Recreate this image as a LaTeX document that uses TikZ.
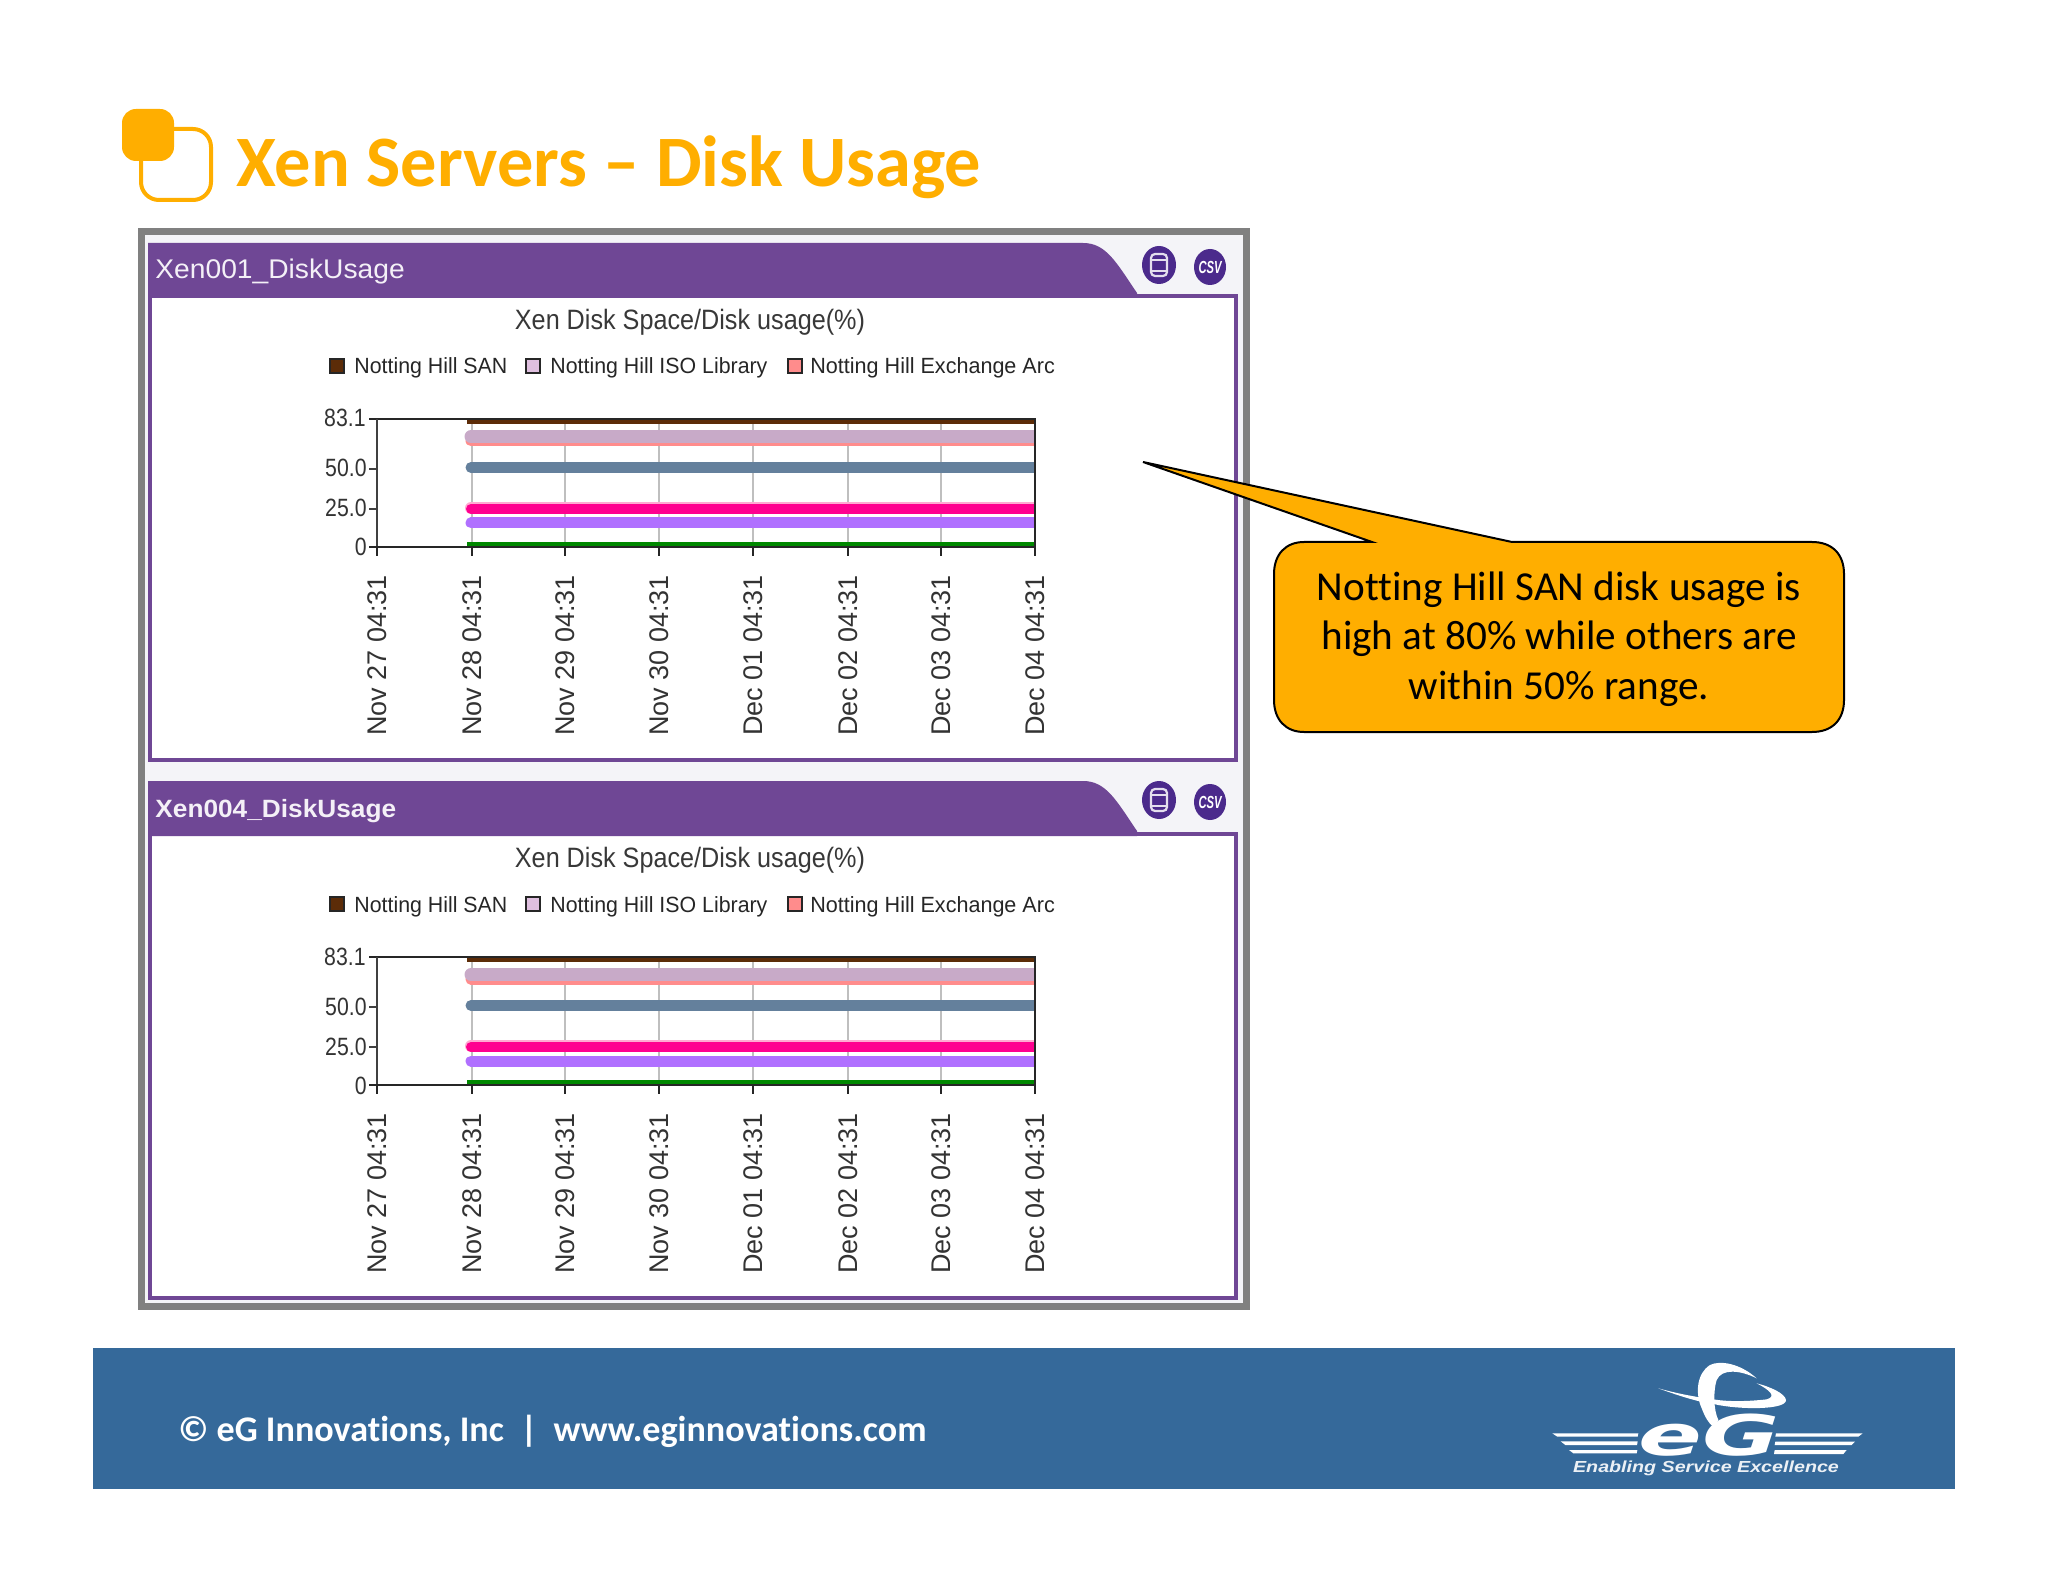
\documentclass[tikz,border=0pt]{standalone}
\usepackage{fontspec}
\usepackage{graphicx}
\setmainfont[Ligatures=NoCommon]{Carlito}
\newfontfamily\arialfont{Liberation Sans}
\newfontfamily\logofont{DejaVu Sans}
\definecolor{orangeC}{HTML}{FFAE00}
\definecolor{purpleC}{HTML}{6F4795}
\definecolor{iconC}{HTML}{4B2A8C}
\definecolor{footC}{HTML}{35699A}
\definecolor{frameC}{HTML}{808080}
\definecolor{frameIn}{HTML}{F4F4F8}
\definecolor{brownS}{RGB}{92,44,8}
\tikzset{
  chartlabel/.style={font=\arialfont\fontsize{13.5}{15}\selectfont,text=black!80,inner sep=0pt},
  ylabel/.style={font=\arialfont\fontsize{12.5}{14}\selectfont,text=black!80,inner sep=0pt,anchor=base east},
  legendtext/.style={font=\arialfont\fontsize{11}{13}\selectfont,text=black!85,inner sep=0pt,anchor=base west},
  legendbox/.style={draw=black!85,line width=1pt},
  series/.style={line cap=round,line width=#1},
  logoline/.style={fill=white,draw=none},
}
\newcommand{\diskpanel}[4]{%
\begin{scope}[shift={(0,#1)},name prefix=#2-]
  % frame and header
  \draw[purpleC,line width=2pt,fill=white] (150,296) rectangle (1236,760);
  \fill[purpleC] (148,243) -- (1083,243) .. controls (1106,243) and (1116,262) .. (1137,293) -- (1137,298) -- (148,298) -- cycle;
  \node[anchor=base west,inner sep=0pt,text=white!92!purpleC] (head) at (155,279) {#3};
  % icons
  \begin{scope}[shift={(0,#4)}]
    \fill[iconC] (1159,264) ellipse [x radius=17,y radius=19];
    \draw[white!85!iconC,line width=1.1pt,rounded corners=2pt] (1151,253) rectangle (1167,275);
    \draw[white!85!iconC,line width=1.1pt] (1151,259) -- (1167,259) (1151,270) -- (1167,270);
    \fill[iconC] (1210,266) ellipse [x radius=16,y radius=18];
    \node[inner sep=0pt,text=white,font=\arialfont\bfseries\itshape\fontsize{7}{8}\selectfont] (csv) at (1210,266) {\scalebox{.8}[1.25]{CSV}};
  \end{scope}
  % titles and legend
  \node[inner sep=0pt,text=black!78,font=\arialfont\fontsize{14}{16}\selectfont] (title) at (690,322) {\scalebox{.9}[1]{Xen Disk Space/Disk usage(\%)}};
  \draw[legendbox,fill=brownS] (330,359) rectangle (344,373);
  \node[legendtext] (lg1) at (354,374) {\scalebox{.97}[1]{Notting Hill SAN}};
  \draw[legendbox,fill=violet!25!white] (526,359) rectangle (540,373);
  \node[legendtext] (lg2) at (550,374) {\scalebox{.97}[1]{Notting Hill ISO Library}};
  \draw[legendbox,fill=red!45!white] (788,359) rectangle (802,373);
  \node[legendtext] (lg3) at (810,374) {\scalebox{.98}[1]{Notting Hill Exchange Arc}};
  % grid
  \foreach \gx in {472,565,659,753,848,941} \draw[black!25,line width=1pt] (\gx,419) -- (\gx,547);
  % series
  \begin{scope}
    \clip (440,410) rectangle (1035,560);
    \draw[color=brownS,line width=3.2pt] (467,421) -- (1040,421);
    \draw[color={rgb,255:red,255;green,140;blue,140},series=5.5pt] (471,441) -- (1040,441);
    \draw[color={rgb,255:red,200;green,170;blue,200},series=6.5pt] (471,436.5) -- (1040,436.5);
    \draw[color={rgb,255:red,100;green,128;blue,156},series=5.5pt] (471,467.5) -- (1040,467.5);
    \draw[color={rgb,255:red,255;green,170;blue,210},series=6pt] (471,508) -- (1040,508);
    \draw[color={rgb,255:red,255;green,0;blue,144},series=5pt] (471,509) -- (1040,509);
    \draw[color={rgb,255:red,176;green,112;blue,255},series=5.5pt] (471,523) -- (1040,523);
    \draw[color={rgb,255:red,0;green,136;blue,0},line width=2.5pt] (467,544.5) -- (1040,544.5);
  \end{scope}
  % axes
  \draw[black!85,line width=1pt] (369,419) -- (1035,419) -- (1035,547);
  \draw[black!75,line width=1pt] (377,419) -- (377,547);
  \draw[black!85,line width=1pt] (369,547) -- (1035,547);
  \draw[black!75,line width=1pt] (369,469) -- (377,469) (369,509) -- (377,509);
  \foreach \gx in {377,472,565,659,753,848,941,1035} \draw[black!85,line width=1pt] (\gx,547) -- (\gx,556);
  % labels
  \node[ylabel] (y83) at (366,427) {\scalebox{.85}[1]{83.1}};
  \node[ylabel] (y50) at (367,477) {\scalebox{.85}[1]{50.0}};
  \node[ylabel] (y25) at (367,517) {\scalebox{.85}[1]{25.0}};
  \node[ylabel] (y0) at (367,556) {\scalebox{.85}[1]{0}};
  \foreach \gx/\lab [count=\li] in {377/Nov 27 04:31,472/Nov 28 04:31,565/Nov 29 04:31,659/Nov 30 04:31,753/Dec 01 04:31,848/Dec 02 04:31,941/Dec 03 04:31,1035/Dec 04 04:31}
    \node[chartlabel,rotate=90,anchor=west] (x\li) at (\gx,736) {\lab};
\end{scope}}
\begin{document}
\begin{tikzpicture}[x=0.5pt,y=-0.5pt]
\useasboundingbox (0,0) rectangle (2048,1582);
% title
\draw[orangeC,line width=2pt,rounded corners=9pt] (141,129) rectangle (211,200);
\fill[orangeC,rounded corners=7pt] (122,109) rectangle (174,161);
\node[anchor=base west,inner sep=0pt,text=orangeC,font=\bfseries\fontsize{36.2}{40}\selectfont] (maintitle) at (236,187) {Xen Servers – Disk Usage};
% outer frame
\draw[frameC,line width=3.5pt,fill=frameIn] (141,232) rectangle (1246,1306);
\diskpanel{0}{p1}{\arialfont\fontsize{13.5}{16}\selectfont\scalebox{1.045}[1]{Xen001\_DiskUsage}}{1}
\diskpanel{538}{p2}{\arialfont\bfseries\fontsize{12.5}{16}\selectfont\scalebox{1.05}[1]{Xen004\_DiskUsage}}{-2}
% callout
\draw[fill=orangeC,draw=black,line width=1pt] (1304,542) -- (1372,542) -- (1143,462) -- (1512,542) -- (1812,542)
  .. controls (1832,542) and (1844,554) .. (1844,574) -- (1844,700)
  .. controls (1844,720) and (1832,732) .. (1812,732) -- (1304,732)
  .. controls (1286,732) and (1274,720) .. (1274,700) -- (1274,574)
  .. controls (1274,554) and (1286,542) .. (1304,542) -- cycle;
\node[align=center,inner sep=0pt,text=black,font=\fontsize{20.6}{24.8}\selectfont] (note) at (1559,639) {Notting Hill SAN disk usage is\\high at 80\% while others are\\within 50\% range.};
% footer
\fill[footC] (93,1348) rectangle (1955,1489);
\node[anchor=base west,inner sep=0pt,text=white,font=\bfseries\fontsize{18.05}{20}\selectfont] (foot) at (178,1441) {© eG Innovations, Inc\ \ |\ \ www.eginnovations.com};
% logo
\begin{scope}[shift={(1500,1330)},xscale=1/3,yscale=1/3]
  \fill[logoline] (157,310) -- (415,310) -- (413,320) -- (172,320) -- cycle;
  \fill[logoline] (182,334) -- (413,334) -- (411,345) -- (196,345) -- cycle;
  \fill[logoline] (207,360) -- (412,360) -- (410,370) -- (220,370) -- cycle;
  \fill[logoline] (828,310) -- (1088,310) -- (1075,320) -- (826,320) -- cycle;
  \fill[logoline] (826,335) -- (1065,335) -- (1055,345) -- (824,345) -- cycle;
  \fill[logoline] (824,360) -- (1040,360) -- (1030,372) -- (822,372) -- cycle;
  \fill[white] (770,145) .. controls (720,100) and (660,90) .. (630,105) .. controls (590,130) and (585,190) .. (605,235) .. controls (615,260) and (625,280) .. (640,290) -- (655,270) .. controls (640,240) and (640,180) .. (650,150) .. controls (665,115) and (720,120) .. (770,145) -- cycle;
  \fill[white] (475,175) .. controls (530,195) and (590,215) .. (640,222) .. controls (720,240) and (860,240) .. (858,210) .. controls (855,190) and (810,170) .. (770,160) .. controls (810,180) and (830,200) .. (800,208) .. controls (740,215) and (680,215) .. (640,208) .. controls (580,200) and (530,190) .. (475,175) -- cycle;
  \node[anchor=base,inner sep=0pt,text=white,font=\logofont\bfseries\itshape\fontsize{28}{30}\selectfont] (logoeg) at (628,377) {\scalebox{1.68}[1]{eG}};
  \node[anchor=base,inner sep=0pt,text=white!90!footC,font=\arialfont\bfseries\itshape\fontsize{8}{10}\selectfont] (logotag) at (618,428) {\scalebox{1.23}[1]{Enabling Service Excellence}};
\end{scope}
\end{tikzpicture}
\end{document}
